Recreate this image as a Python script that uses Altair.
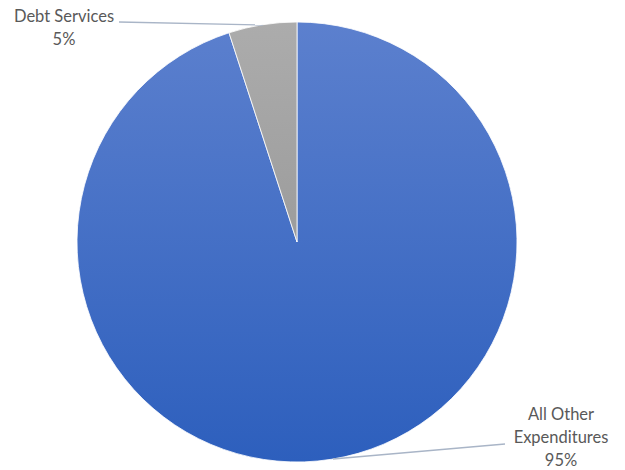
import altair as alt
import pandas as pd

categories = ["All Other Expenditures", "Debt Services"]
shares = [95, 5]
label_lines = [["All Other", "Expenditures", "95%"], ["Debt Services", "5%"]]

df = pd.DataFrame({"category": categories, "share": shares, "order": [0, 1]})

blue_grad = alt.Gradient(
    gradient="linear", x1=0, y1=0, x2=0, y2=1,
    stops=[alt.GradientStop(offset=0, color="#5C80CE"),
           alt.GradientStop(offset=1, color="#2D5FBD")],
)
gray_grad = alt.Gradient(
    gradient="linear", x1=0, y1=0, x2=0, y2=1,
    stops=[alt.GradientStop(offset=0, color="#ACACAC"),
           alt.GradientStop(offset=1, color="#9C9C9C")],
)

pie = alt.Chart(df).mark_arc(outerRadius=220, stroke="white", strokeWidth=0.8).encode(
    theta=alt.Theta("share:Q", stack=True),
    order=alt.Order("order:Q"),
    color=alt.condition(alt.datum.category == "Debt Services",
                        alt.value(gray_grad), alt.value(blue_grad)),
    x=alt.value(297), y=alt.value(242),
)

line_color = "#A9B5C7"
lead1 = alt.Chart(df.head(1)).mark_rule(color=line_color, strokeWidth=1.3).encode(
    x=alt.value(119), y=alt.value(22), x2=alt.value(263), y2=alt.value(25))
lead2 = alt.Chart(df.head(1)).mark_rule(color=line_color, strokeWidth=1.3).encode(
    x=alt.value(333), y=alt.value(459), x2=alt.value(505), y2=alt.value(444))

txt_style = dict(font="Lato", fontSize=16.5, color="#595959", align="center",
                 baseline="middle", lineHeight=23)
t1 = alt.Chart(df.head(1)).mark_text(**txt_style).encode(
    x=alt.value(64), y=alt.value(17), text=alt.value(label_lines[1]))
t2 = alt.Chart(df.head(1)).mark_text(**txt_style).encode(
    x=alt.value(561), y=alt.value(415), text=alt.value(label_lines[0]))

chart = alt.layer(pie, lead1, lead2, t1, t2).properties(
    width=625, height=470, padding=0,
    autosize=alt.AutoSizeParams(type="none"),
).configure_view(stroke=None)

chart.save("out.html", embed_options={"renderer": "svg", "actions": False})
